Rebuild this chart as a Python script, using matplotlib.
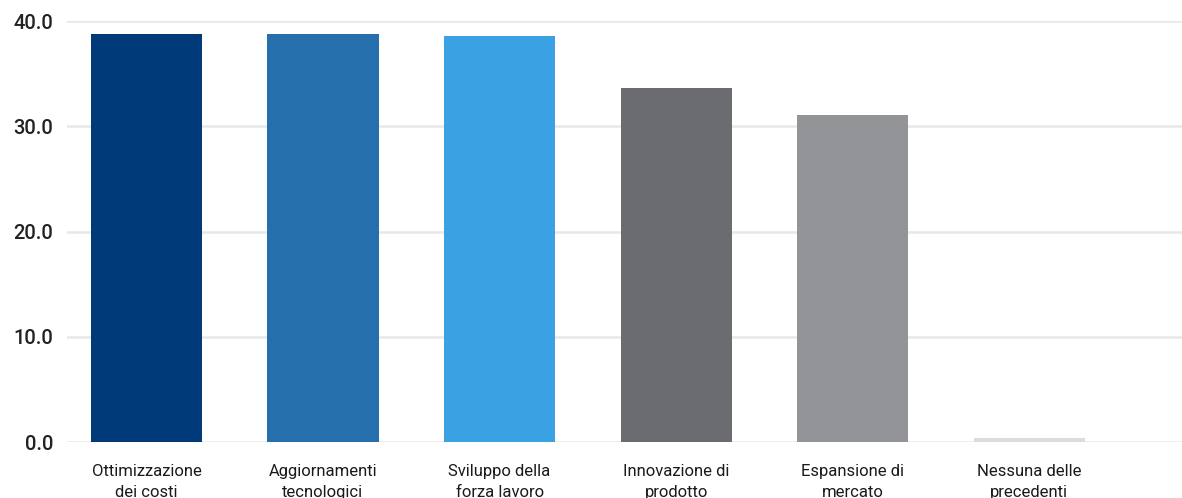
import matplotlib
matplotlib.use("Agg")
import matplotlib.pyplot as plt

# Valori per categoria
categorie = ["Ottimizzazione\ndei costi", "Aggiornamenti\ntecnologici",
             "Sviluppo della\nforza lavoro", "Innovazione di\nprodotto",
             "Espansione di\nmercato", "Nessuna delle\nprecedenti"]
valori = [38.8, 38.8, 38.6, 33.6, 31.1, 0.4]
colori = ["#003a78", "#256fad", "#3aa2e3", "#6b6c70", "#939498", "#dcdcdc"]
y_ticks = [0, 10, 20, 30, 40]

plt.rcParams["font.family"] = ["Roboto", "DejaVu Sans"]

fig = plt.figure(figsize=(11.82, 4.98), dpi=100)
ax = fig.add_axes([0.0567, 0.1124, 0.9433, 0.8454])

x = range(len(categorie))
ax.bar(x, valori, width=0.63, color=colori, zorder=3)

ax.set_ylim(0, 40)
ax.set_xlim(-0.45, 5.865)
ax.set_yticks(y_ticks)
ax.set_yticklabels([f"{v:.1f}" for v in y_ticks], fontsize=14.5,
                   fontweight="medium", color="#222222")
ax.set_xticks(list(x))
ax.set_xticklabels(categorie, fontsize=12, color="#1a1a1a", linespacing=1.45)
ax.tick_params(axis="both", length=0)
ax.tick_params(axis="x", pad=16)
ax.tick_params(axis="y", pad=10)

ax.grid(axis="y", color="#e8e8e8", linewidth=1.8, zorder=0)
for s in ax.spines.values():
    s.set_visible(False)

fig.savefig("out.png", dpi=100)
